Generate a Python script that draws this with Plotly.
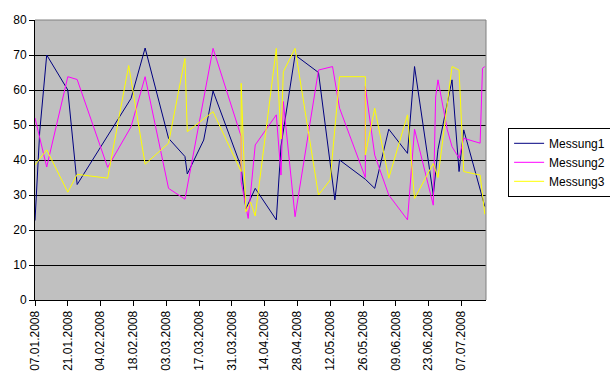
import plotly.graph_objects as go

m1_dates = ["2008-01-07", "2008-01-09", "2008-01-12", "2008-01-21", "2008-01-25", "2008-02-17",
            "2008-02-23", "2008-03-04", "2008-03-11", "2008-03-12", "2008-03-19", "2008-03-23",
            "2008-04-04", "2008-04-06", "2008-04-10", "2008-04-19", "2008-04-21", "2008-04-27",
            "2008-05-07", "2008-05-14", "2008-05-16", "2008-05-27", "2008-05-31", "2008-06-06",
            "2008-06-14", "2008-06-17", "2008-06-25", "2008-06-27", "2008-07-03", "2008-07-06",
            "2008-07-08", "2008-07-17"]
m1_vals = [22.7, 48, 70, 60, 33, 57.6,
           72, 46.2, 41, 36, 45.7, 59.7,
           38, 26, 31.9, 22.9, 44, 70,
           65, 28.6, 40, 34.5, 31.9, 48.8,
           41.9, 66.7, 30, 43, 62.9, 36.7,
           48.6, 26.7]

m2_dates = ["2008-01-07", "2008-01-12", "2008-01-21", "2008-01-25", "2008-02-07", "2008-02-17",
            "2008-02-23", "2008-03-04", "2008-03-11", "2008-03-23", "2008-04-04", "2008-04-04",
            "2008-04-07", "2008-04-10", "2008-04-19", "2008-04-20", "2008-04-21", "2008-04-22",
            "2008-04-27", "2008-05-07", "2008-05-13", "2008-05-16", "2008-05-27", "2008-05-27",
            "2008-05-31", "2008-06-06", "2008-06-14", "2008-06-17", "2008-06-25", "2008-06-26",
            "2008-06-27", "2008-07-01", "2008-07-03", "2008-07-06", "2008-07-08", "2008-07-15",
            "2008-07-16", "2008-07-17"]
m2_vals = [52, 38, 63.8, 63, 37.9, 49.5,
           63.8, 31.9, 28.8, 71.9, 46.7, 33.8,
           23.3, 44.3, 52.9, 42.9, 35.7, 56.7,
           23.8, 65.7, 66.7, 54.8, 35, 61,
           41.4, 30, 22.9, 48.8, 27.1, 58,
           62.9, 48.6, 43.8, 40.5, 46.2, 44.8,
           66.2, 66.7]

m3_dates = ["2008-01-07", "2008-01-12", "2008-01-21", "2008-01-25", "2008-02-07", "2008-02-16",
            "2008-02-23", "2008-03-04", "2008-03-11", "2008-03-12", "2008-03-23", "2008-04-04",
            "2008-04-04", "2008-04-06", "2008-04-08", "2008-04-10", "2008-04-19", "2008-04-21",
            "2008-04-22", "2008-04-27", "2008-05-07", "2008-05-12", "2008-05-16", "2008-05-27",
            "2008-05-27", "2008-05-31", "2008-06-06", "2008-06-14", "2008-06-17", "2008-06-25",
            "2008-06-27", "2008-07-03", "2008-07-06", "2008-07-08", "2008-07-15", "2008-07-17"]
m3_vals = [38.6, 42.9, 30.8, 35.9, 34.8, 67,
           38.8, 44.8, 69, 48.1, 53.8, 36.7,
           61.9, 25.2, 28, 24, 71.9, 46,
           65.2, 71.9, 30, 34.3, 63.8, 63.8,
           41.4, 54.8, 34.8, 52.9, 29, 39,
           35, 66.7, 65.7, 36.7, 35.7, 24.5]

series_names = ["Messung1", "Messung2", "Messung3"]
series_colors = ["#000080", "#FF00FF", "#FFFF00"]

FONT = "Liberation Sans, Arial, sans-serif"

fig = go.Figure()
for name, color, xs, ys in zip(series_names, series_colors,
                               [m1_dates, m2_dates, m3_dates],
                               [m1_vals, m2_vals, m3_vals]):
    fig.add_trace(go.Scatter(x=xs, y=ys, mode="lines", name=name,
                             line=dict(color=color, width=1)))

fig.update_layout(
    width=610, height=387,
    margin=dict(l=35, r=124, t=20, b=87, pad=0, autoexpand=False),
    paper_bgcolor="white",
    plot_bgcolor="#C0C0C0",
    font=dict(family=FONT, size=12, color="black"),
    showlegend=True,
    legend=dict(x=1.049, y=0.615, xanchor="left", yanchor="top",
                bgcolor="white", bordercolor="black", borderwidth=1,
                font=dict(family=FONT, size=12, color="black"),
                itemwidth=30, tracegroupgap=0),
    shapes=[
        dict(type="line", xref="paper", yref="paper", x0=0, x1=1, y0=1, y1=1,
             line=dict(color="#808080", width=1), layer="above"),
        dict(type="line", xref="paper", yref="paper", x0=1, x1=1, y0=0, y1=1,
             line=dict(color="#808080", width=1), layer="above"),
    ],
)

fig.update_xaxes(
    type="date", automargin=False,
    range=["2008-01-07", "2008-07-17 12:00"],
    tick0="2008-01-07", dtick=14 * 86400000,
    tickformat="%d.%m.%Y", tickangle=-90,
    ticks="outside", ticklen=5, tickcolor="black",
    showline=True, linecolor="black", linewidth=1,
    showgrid=False, zeroline=False,
    tickfont=dict(family=FONT, size=12, color="black"),
)
fig.update_yaxes(
    automargin=False,
    range=[0, 80], dtick=10, tick0=0,
    ticks="outside", ticklen=5, tickcolor="black",
    showline=True, linecolor="black", linewidth=1,
    showgrid=True, gridcolor="black", gridwidth=1,
    zeroline=False,
    tickfont=dict(family=FONT, size=12, color="black"),
)

fig.write_html(
    "out.html",
    config={"displayModeBar": False, "staticPlot": True},
    post_script="document.body.style.margin='0px';document.body.style.overflow='hidden';",
)
